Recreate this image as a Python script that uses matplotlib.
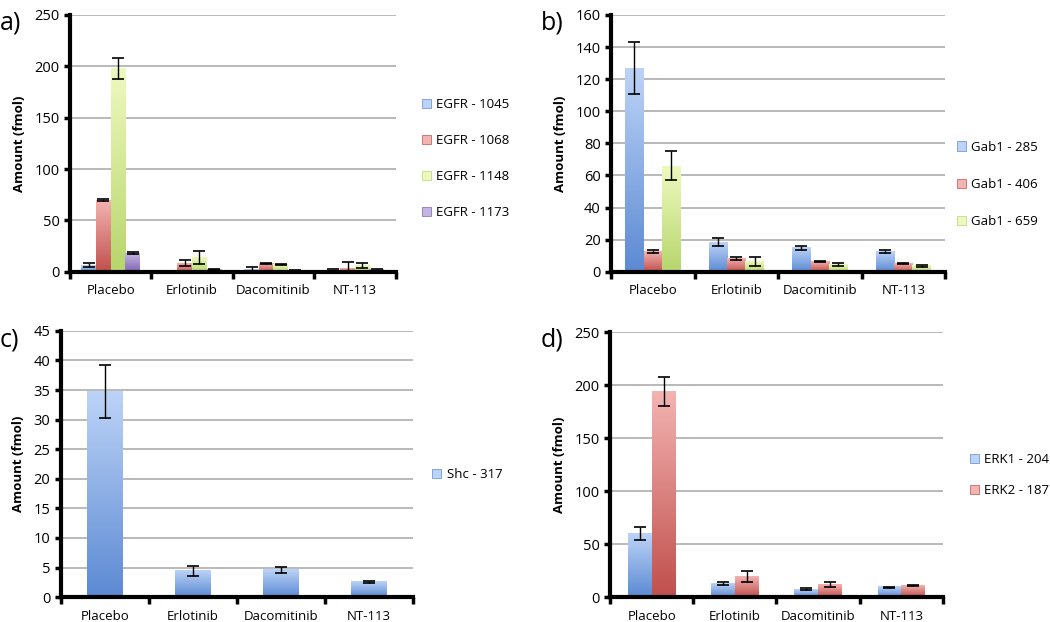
import matplotlib.pyplot as plt
import numpy as np
from matplotlib.colors import LinearSegmentedColormap
from matplotlib.patches import Patch

plt.rcParams['font.family'] = ['Open Sans', 'DejaVu Sans']

groups = ['Placebo', 'Erlotinib', 'Dacomitinib', 'NT-113']

# panel a
egfr_labels = ['EGFR - 1045', 'EGFR - 1068', 'EGFR - 1148', 'EGFR - 1173']
egfr_vals = [[6.5, 0.5, 2.0, 1.0],
             [70, 8.5, 8.3, 3.5],
             [198, 14, 7.5, 6.0],
             [18, 2.0, 1.0, 2.0]]
egfr_err = [[2.0, 0.3, 2.5, 1.5],
            [1.0, 3.0, 0.5, 6.0],
            [10, 6.5, 0.5, 2.5],
            [1.0, 0.5, 0.3, 1.0]]

# panel b
gab_labels = ['Gab1 - 285', 'Gab1 - 406', 'Gab1 - 659']
gab_vals = [[127, 18.5, 15, 12.8],
            [12.5, 8.5, 6.5, 5.0],
            [66, 6.5, 4.5, 3.8]]
gab_err = [[16, 2.5, 1.2, 1.0],
           [0.8, 1.0, 0.3, 0.4],
           [9, 3.0, 1.0, 0.5]]

# panel c
shc_labels = ['Shc - 317']
shc_vals = [[34.7, 4.4, 4.6, 2.6]]
shc_err = [[4.5, 0.9, 0.5, 0.15]]

# panel d
erk_labels = ['ERK1 - 204', 'ERK2 - 187']
erk_vals = [[60, 13, 7.5, 9.5],
            [194, 19.5, 12, 11]]
erk_err = [[6, 1.5, 1.0, 0.5],
           [14, 5.0, 2.5, 0.5]]

# (light top, dark bottom)
palette = [('#bcd3f7', '#5c8ad3'),
           ('#f3b3b1', '#c0504d'),
           ('#eef9bf', '#b7d66c'),
           ('#c3b5e3', '#8166b0')]

W, H = 1050, 622


def draw_panel(rect, tag, tag_xy, labels, vals, errs, ymax, ystep, width,
               leg_anchor, spacing):
    ax = fig.add_axes(rect)
    n = len(labels)
    x = np.arange(len(groups))
    for i in range(n):
        pos = x + (i - (n - 1) / 2) * width
        light, dark = palette[i]
        cmap = LinearSegmentedColormap.from_list('g', [dark, light])
        grad = np.linspace(1, 0, 64).reshape(-1, 1)
        for p, v in zip(pos, vals[i]):
            ax.imshow(grad, extent=[p - width / 2, p + width / 2, 0, v],
                      aspect='auto', cmap=cmap, zorder=2, interpolation='bicubic')
        ax.errorbar(pos, vals[i], yerr=errs[i], fmt='none', ecolor='black',
                    elinewidth=1, capsize=4, capthick=1.2, zorder=4)
    ax.set_xlim(-0.5, len(groups) - 0.5)
    ax.set_ylim(0, ymax)
    ax.set_yticks(np.arange(0, ymax + ystep / 2, ystep))
    ax.yaxis.grid(True, color='#a6a6a6', linewidth=1.1)
    ax.set_axisbelow(True)
    ax.set_xticks(x)
    ax.set_xticklabels(groups, fontsize=9.5)
    ax.set_xticks(np.arange(-0.5, len(groups)), minor=True)
    ax.tick_params(axis='x', which='major', length=0, pad=9)
    ax.tick_params(axis='x', which='minor', length=5, width=2.5, direction='out')
    ax.tick_params(axis='y', length=4, width=2.5, labelsize=10.5)
    for s in ['top', 'right']:
        ax.spines[s].set_visible(False)
    ax.spines['left'].set_linewidth(3)
    ax.spines['bottom'].set_linewidth(3)
    ax.set_ylabel('Amount (fmol)', fontsize=9.5, fontweight='bold', labelpad=6)
    handles = [Patch(facecolor=palette[i][0], edgecolor=palette[i][1], linewidth=0.5)
               for i in range(n)]
    ax.legend(handles, labels, loc='center left', bbox_to_anchor=leg_anchor,
              frameon=False, fontsize=9.5, handlelength=0.7, handleheight=0.7,
              handletextpad=0.4, labelspacing=spacing, borderpad=0,
              borderaxespad=0)
    fig.text(tag_xy[0] / W, 1 - tag_xy[1] / H, tag, fontsize=18,
             ha='left', va='top')
    return ax


fig = plt.figure(figsize=(10.5, 6.22), dpi=100)

draw_panel([0.0667, 0.563, 0.31, 0.413], 'a)', (0, 10), egfr_labels, egfr_vals,
           egfr_err, 250, 50, 0.18, (1.08, 0.44), 1.75)
draw_panel([0.582, 0.563, 0.318, 0.413], 'b)', (541, 10), gab_labels, gab_vals,
           gab_err, 160, 20, 0.22, (1.035, 0.34), 1.85)
draw_panel([0.058, 0.040, 0.335, 0.428], 'c)', (0, 328), shc_labels, shc_vals,
           shc_err, 45, 5, 0.40, (1.055, 0.46), 1.5)
draw_panel([0.581, 0.040, 0.317, 0.426], 'd)', (541, 328), erk_labels, erk_vals,
           erk_err, 250, 50, 0.285, (1.08, 0.46), 1.35)

fig.savefig('out.png', dpi=100)
